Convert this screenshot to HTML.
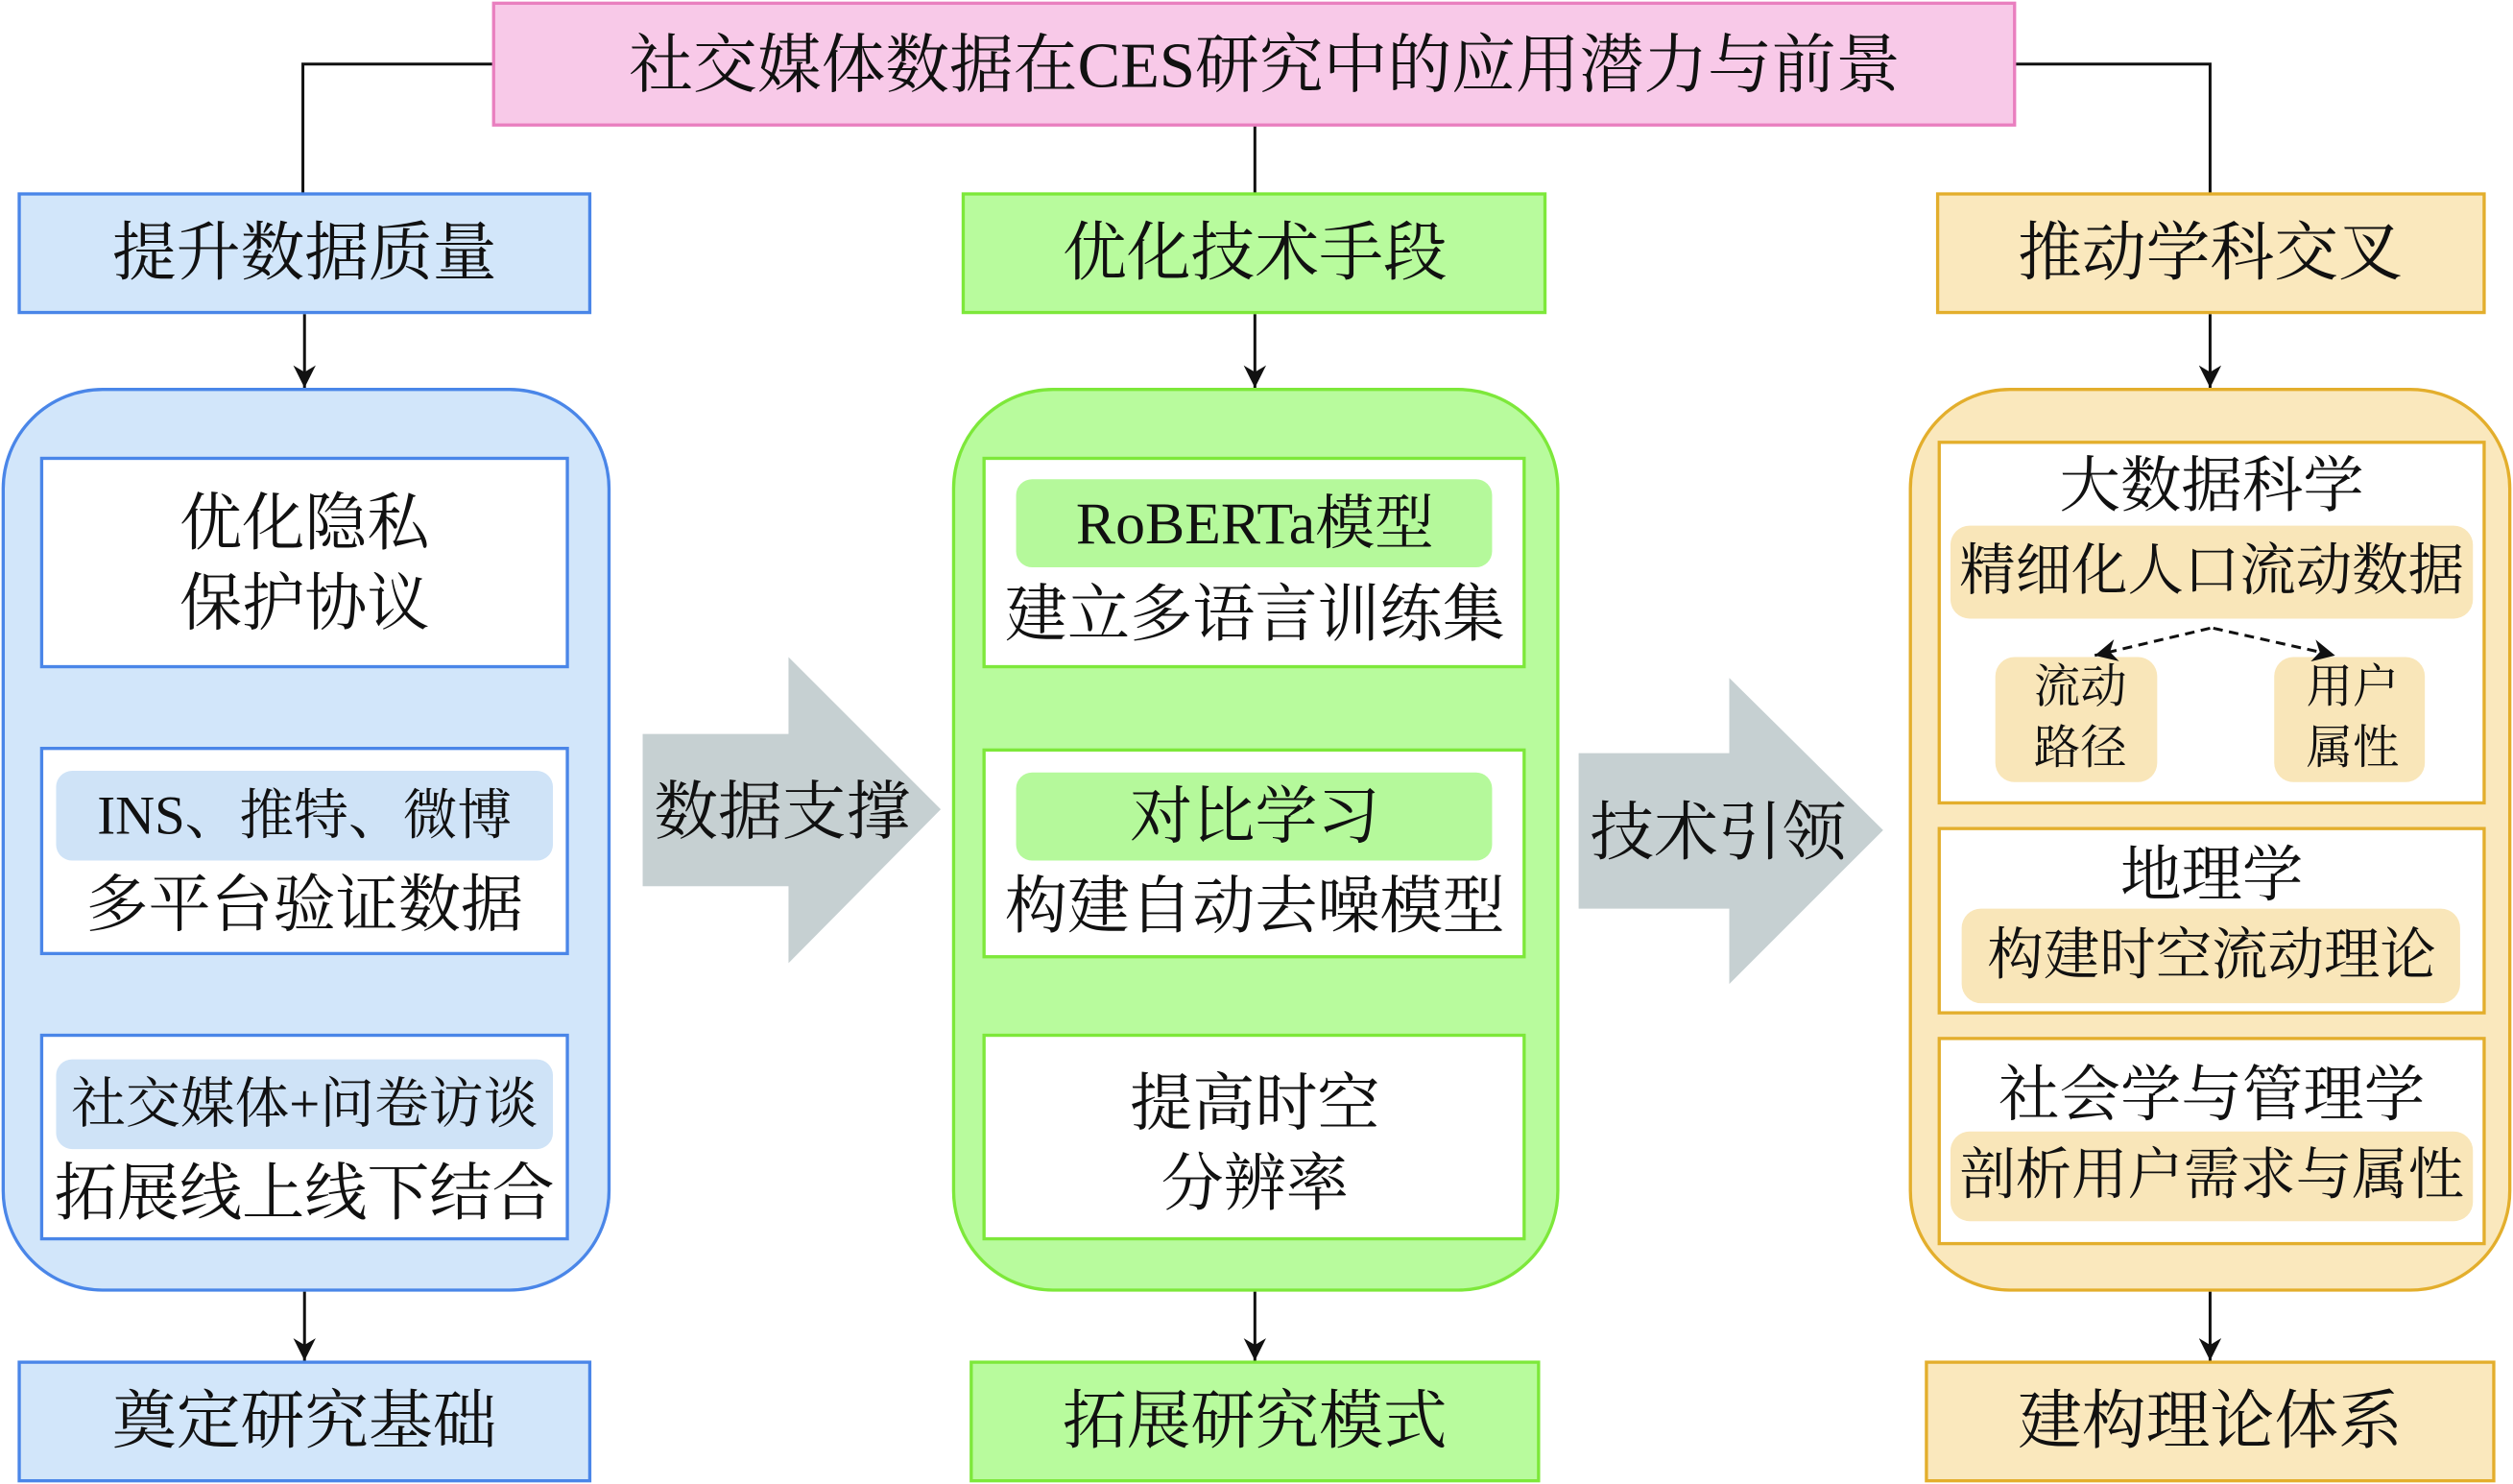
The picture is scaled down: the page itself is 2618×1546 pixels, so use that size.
<!DOCTYPE html>
<html><head><meta charset="utf-8"><style>
html,body{margin:0;padding:0;background:#fff}
svg{display:block}
text{font-family:"Liberation Serif","Noto Serif CJK SC",serif;fill:#111;text-anchor:middle;dominant-baseline:central}
</style></head><body>
<svg width="2618" height="1546" viewBox="0 0 1568 926" preserveAspectRatio="none" xmlns="http://www.w3.org/2000/svg">
<defs>
<marker id="ah2" viewBox="0 0 10 10" refX="10" refY="5" markerWidth="20" markerHeight="14" markerUnits="userSpaceOnUse" orient="auto"><path d="M0,0 L10,5 L0,10 L3,5 Z" fill="#111"/></marker>
<marker id="ah3" viewBox="0 0 10 10" refX="10" refY="5" markerWidth="16" markerHeight="14" markerUnits="userSpaceOnUse" orient="auto"><path d="M0,0 L10,5 L0,10 L3,5 Z" fill="#111"/></marker>
</defs>
<g stroke="#111" stroke-width="1.8" fill="none">
<polyline points="308,40 189,40 189,121"/>
<line x1="783" y1="78" x2="783" y2="121"/>
<polyline points="1257,40 1379,40 1379,121"/>
<line x1="190" y1="196" x2="190" y2="242" marker-end="url(#ah2)"/>
<line x1="783" y1="196" x2="783" y2="242" marker-end="url(#ah2)"/>
<line x1="1379" y1="196" x2="1379" y2="242" marker-end="url(#ah2)"/>
<line x1="190" y1="806" x2="190" y2="849" marker-end="url(#ah2)"/>
<line x1="783" y1="806" x2="783" y2="849" marker-end="url(#ah2)"/>
<line x1="1379" y1="806" x2="1379" y2="849" marker-end="url(#ah2)"/>
</g>
<rect x="308" y="2" width="949" height="76" fill="#f8c9e8" stroke="#e97fbf" stroke-width="2"/>
<text x="789" y="41" font-size="40">社交媒体数据在CES研究中的应用潜力与前景</text>
<rect x="12" y="121" width="356" height="74" fill="#d2e6fa" stroke="#4a86e8" stroke-width="2"/>
<text x="190" y="158" font-size="40">提升数据质量</text>
<rect x="601" y="121" width="363" height="74" fill="#b8fb9d" stroke="#7de83a" stroke-width="2"/>
<text x="783" y="158" font-size="40">优化技术手段</text>
<rect x="1209" y="121" width="341" height="74" fill="#fae8bd" stroke="#e3ae2c" stroke-width="2"/>
<text x="1379" y="158" font-size="40">推动学科交叉</text>
<rect x="12" y="850" width="356" height="74" fill="#d2e6fa" stroke="#4a86e8" stroke-width="2"/>
<text x="190" y="887" font-size="40">奠定研究基础</text>
<rect x="606" y="850" width="354" height="74" fill="#b8fb9d" stroke="#7de83a" stroke-width="2"/>
<text x="783" y="887" font-size="40">拓展研究模式</text>
<rect x="1202" y="850" width="354" height="74" fill="#fae8bd" stroke="#e3ae2c" stroke-width="2"/>
<text x="1379" y="887" font-size="40">建构理论体系</text>
<rect x="2" y="243" width="378" height="562" rx="62" ry="62" fill="#d2e6fa" stroke="#4a86e8" stroke-width="2"/>
<rect x="595" y="243" width="377" height="562" rx="62" ry="62" fill="#b8fb9d" stroke="#7de83a" stroke-width="2"/>
<rect x="1192" y="243" width="374" height="562" rx="62" ry="62" fill="#fae8bd" stroke="#e3ae2c" stroke-width="2"/>
<polygon points="401,458 492,458 492,410 587,505 492,601 492,553 401,553" fill="#c6d0d2"/>
<text x="488" y="507" font-size="40">数据支撑</text>
<polygon points="985,470 1079,470 1079,423 1175,518 1079,614 1079,567 985,567" fill="#c6d0d2"/>
<text x="1072" y="520" font-size="40">技术引领</text>
<g fill="#fff" stroke="#4a86e8" stroke-width="2">
<rect x="26" y="286" width="328" height="130"/>
<rect x="26" y="467" width="328" height="128"/>
<rect x="26" y="646" width="328" height="127"/>
</g>
<text x="190" y="327" font-size="39">优化隐私</text>
<text x="190" y="377" font-size="39">保护协议</text>
<rect x="35" y="481" width="310" height="56" rx="10" fill="#cfe3f7"/>
<text x="190" y="509" font-size="34">INS、推特、微博</text>
<text x="190" y="565" font-size="39">多平台验证数据</text>
<rect x="35" y="661" width="310" height="56" rx="10" fill="#cfe3f7"/>
<text x="190" y="689" font-size="34">社交媒体+问卷访谈</text>
<text x="190" y="745" font-size="39">拓展线上线下结合</text>
<g fill="#fff" stroke="#7de83a" stroke-width="2">
<rect x="614" y="286" width="337" height="130"/>
<rect x="614" y="468" width="337" height="129"/>
<rect x="614" y="646" width="337" height="127"/>
</g>
<rect x="634" y="299" width="297" height="55" rx="10" fill="#b5f99b"/>
<text x="783" y="327" font-size="37">RoBERTa模型</text>
<text x="783" y="384" font-size="39">建立多语言训练集</text>
<rect x="634" y="482" width="297" height="55" rx="10" fill="#b5f99b"/>
<text x="783" y="510" font-size="39">对比学习</text>
<text x="783" y="566" font-size="39">构建自动去噪模型</text>
<text x="783" y="689" font-size="39">提高时空</text>
<text x="783" y="739" font-size="39">分辨率</text>
<g fill="#fff" stroke="#e3ae2c" stroke-width="2">
<rect x="1210" y="276" width="340" height="225"/>
<rect x="1210" y="517" width="340" height="115"/>
<rect x="1210" y="648" width="340" height="128"/>
</g>
<text x="1380" y="303" font-size="38">大数据科学</text>
<rect x="1217" y="328" width="326" height="58" rx="12" fill="#f9e6b9"/>
<text x="1380" y="356" font-size="35">精细化人口流动数据</text>
<rect x="1245" y="410" width="101" height="78" rx="12" fill="#f9e6b9"/>
<rect x="1419" y="410" width="94" height="78" rx="12" fill="#f9e6b9"/>
<text x="1298" y="429" font-size="29">流动</text>
<text x="1298" y="467" font-size="29">路径</text>
<text x="1468" y="429" font-size="29">用户</text>
<text x="1468" y="467" font-size="29">属性</text>
<g stroke="#111" stroke-width="1.8" stroke-dasharray="6,4" fill="none">
<line x1="1379" y1="392" x2="1307" y2="409" marker-end="url(#ah3)"/>
<line x1="1381" y1="392" x2="1457" y2="409" marker-end="url(#ah3)"/>
</g>
<text x="1380" y="546" font-size="38">地理学</text>
<rect x="1224" y="567" width="311" height="59" rx="12" fill="#f9e6b9"/>
<text x="1380" y="596" font-size="35">构建时空流动理论</text>
<text x="1380" y="683" font-size="38">社会学与管理学</text>
<rect x="1217" y="706" width="326" height="56" rx="12" fill="#f9e6b9"/>
<text x="1380" y="733" font-size="35">剖析用户需求与属性</text>
</svg>
</body></html>
